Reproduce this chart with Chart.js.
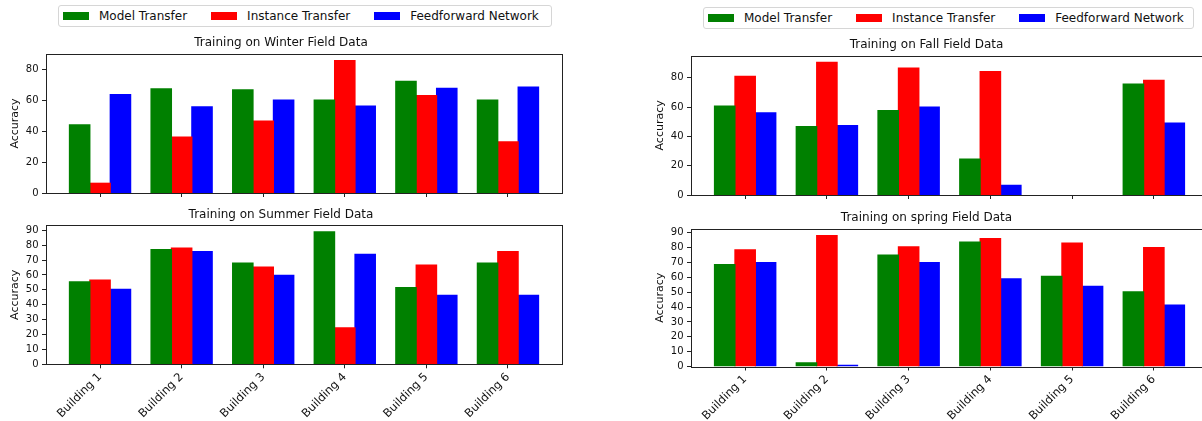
<!DOCTYPE html>
<html>
<head>
<meta charset="utf-8">
<script src="https://cdn.jsdelivr.net/npm/chart.js@4.4.0/dist/chart.umd.min.js"></script>
<style>
html, body { margin: 0; padding: 0; background: #fff; overflow: hidden; width: 1202px; height: 421px; }
body { position: relative; font-family: "DejaVu Sans", sans-serif; }
canvas { position: absolute; }
.legend { position: absolute; display: flex; align-items: center; box-sizing: border-box;
  border: 1px solid #d6d6d6; border-radius: 3px; font-size: 12px; color: #111; padding-left: 4px; background: #fff; }
.legend .item { display: flex; align-items: center; margin-right: 24px; white-space: nowrap; }
.legend .sw { width: 26px; height: 8px; margin-right: 10px; }
</style>
</head>
<body>
<div class="legend" id="legend-left" style="left:58px; top:5px; width:494px; height:22px;"></div>
<div class="legend" id="legend-right" style="left:703px; top:7px; width:491px; height:22px;"></div>
<canvas id="summer" width="600" height="221" style="left:0px; top:200px;"></canvas>
<canvas id="spring" width="575" height="221" style="left:645px; top:200px;"></canvas>
<canvas id="winter" width="600" height="175" style="left:0px; top:28px;"></canvas>
<canvas id="fall" width="575" height="175" style="left:645px; top:30px;"></canvas>
<script>
var categories = ['Building 1', 'Building 2', 'Building 3', 'Building 4', 'Building 5', 'Building 6'];
var seriesNames = ['Model Transfer', 'Instance Transfer', 'Feedforward Network'];
var seriesColors = ['#008000', '#ff0000', '#0000ff'];

var winterModel = [44.2, 67.5, 66.8, 60.2, 72.4, 60.2];
var winterInstance = [6.3, 36.2, 46.6, 85.8, 63.2, 33.2];
var winterFeedforward = [63.8, 55.8, 60.2, 56.3, 67.9, 68.6];

var summerModel = [55.3, 77.0, 68.0, 88.9, 51.5, 68.0];
var summerInstance = [56.6, 78.1, 65.3, 24.4, 66.7, 75.6];
var summerFeedforward = [50.4, 75.6, 59.8, 73.9, 46.3, 46.3];

var fallModel = [60.7, 46.6, 57.5, 24.5, 0, 75.7];
var fallInstance = [80.9, 90.5, 86.6, 84.1, 0, 78.2];
var fallFeedforward = [56.1, 47.3, 60.0, 6.6, 0, 49.1];

var springModel = [68.6, 2.4, 75.0, 83.8, 60.7, 50.3];
var springInstance = [78.6, 88.2, 80.6, 86.2, 83.1, 80.0];
var springFeedforward = [69.9, 0.7, 70.0, 59.0, 54.0, 41.3];

var ticks20 = [0, 20, 40, 60, 80];
var ticks10 = [0, 10, 20, 30, 40, 50, 60, 70, 80, 90];

var textColor = '#111';
var fontFamily = '"DejaVu Sans", sans-serif';

// legends (one per column, as in the figure)
['legend-left', 'legend-right'].forEach(function (id) {
    var el = document.getElementById(id);
    seriesNames.forEach(function (name, i) {
        var item = document.createElement('div');
        item.className = 'item';
        var sw = document.createElement('span');
        sw.className = 'sw';
        sw.style.background = seriesColors[i];
        item.appendChild(sw);
        item.appendChild(document.createTextNode(name));
        el.appendChild(item);
    });
});

// box around the plot area, like matplotlib spines
var framePlugin = {
    id: 'frame',
    afterDatasetsDraw: function (chart) {
        var a = chart.chartArea, c = chart.ctx;
        c.save();
        c.strokeStyle = '#222';
        c.lineWidth = 1;
        c.strokeRect(Math.round(a.left) + 0.5, Math.round(a.top) + 0.5,
            Math.round(a.right - a.left), Math.round(a.bottom - a.top));
        c.restore();
    }
};

function makeChart(id, title, values, yTicks, opts) {
    var all = values[0].concat(values[1], values[2]);
    var yMax = Math.max.apply(null, all) * 1.05;
    var datasets = values.map(function (vals, i) {
        return {
            label: seriesNames[i],
            data: categories.map(function (c, j) { return { x: j, y: vals[j] }; }),
            backgroundColor: seriesColors[i],
            borderWidth: 0,
            // close the hairline gaps between bars, but keep zero bars invisible
            inflateAmount: function (ctx) { return ctx.raw && ctx.raw.y === 0 ? 0 : 0.6; },
            categoryPercentage: 0.75,
            barPercentage: 1.0
        };
    });
    return new Chart(document.getElementById(id).getContext('2d'), {
        type: 'bar',
        data: { datasets: datasets },
        options: {
            responsive: false,
            animation: false,
            events: [],
            layout: { padding: { left: 0, right: opts.right, top: 0, bottom: 0 } },
            plugins: {
                legend: { display: false },
                tooltip: { enabled: false },
                title: {
                    display: true,
                    text: title,
                    color: textColor,
                    font: { family: fontFamily, size: 12, weight: 'normal' },
                    padding: { top: opts.titleTop, bottom: opts.titleBottom }
                }
            },
            scales: {
                x: {
                    type: 'linear',
                    offset: false,
                    min: -0.6625,
                    max: 5.6625,
                    grid: { offset: false, drawOnChartArea: false, drawTicks: true, tickLength: 4, color: '#222' },
                    border: { display: false },
                    afterBuildTicks: function (s) {
                        s.ticks = categories.map(function (c, i) { return { value: i }; });
                    },
                    afterFit: function (s) { s.height = opts.xHeight; },
                    ticks: {
                        display: opts.labels,
                        autoSkip: false,
                        minRotation: 45,
                        maxRotation: 45,
                        padding: 2,
                        color: textColor,
                        font: { family: fontFamily, size: 11.5 },
                        callback: function (v) { return categories[v]; }
                    }
                },
                y: {
                    min: 0,
                    max: yMax,
                    grid: { drawOnChartArea: false, drawTicks: true, tickLength: 4, color: '#222' },
                    border: { display: false },
                    afterBuildTicks: function (s) {
                        s.ticks = yTicks.map(function (v) { return { value: v }; });
                    },
                    afterFit: function (s) { s.width = 46; },
                    ticks: {
                        padding: 3.5,
                        color: textColor,
                        font: { family: fontFamily, size: 10 }
                    },
                    title: {
                        display: true,
                        text: 'Accuracy',
                        color: textColor,
                        font: { family: fontFamily, size: 11 },
                        padding: { top: 9, bottom: 0 }
                    }
                }
            }
        },
        plugins: [framePlugin]
    });
}

makeChart('winter', 'Training on Winter Field Data',
    [winterModel, winterInstance, winterFeedforward], ticks20,
    { right: 38, titleTop: 8.1, titleBottom: 3.5, xHeight: 10, labels: false });
makeChart('summer', 'Training on Summer Field Data',
    [summerModel, summerInstance, summerFeedforward], ticks10,
    { right: 38, titleTop: 7.4, titleBottom: 3.5, xHeight: 56.7, labels: true });
makeChart('fall', 'Training on Fall Field Data',
    [fallModel, fallInstance, fallFeedforward], ticks20,
    { right: 12, titleTop: 7.8, titleBottom: 3.5, xHeight: 10, labels: false });
makeChart('spring', 'Training on spring Field Data',
    [springModel, springInstance, springFeedforward], ticks10,
    { right: 12, titleTop: 11.1, titleBottom: 3.5, xHeight: 54.5, labels: true });
</script>
</body>
</html>
